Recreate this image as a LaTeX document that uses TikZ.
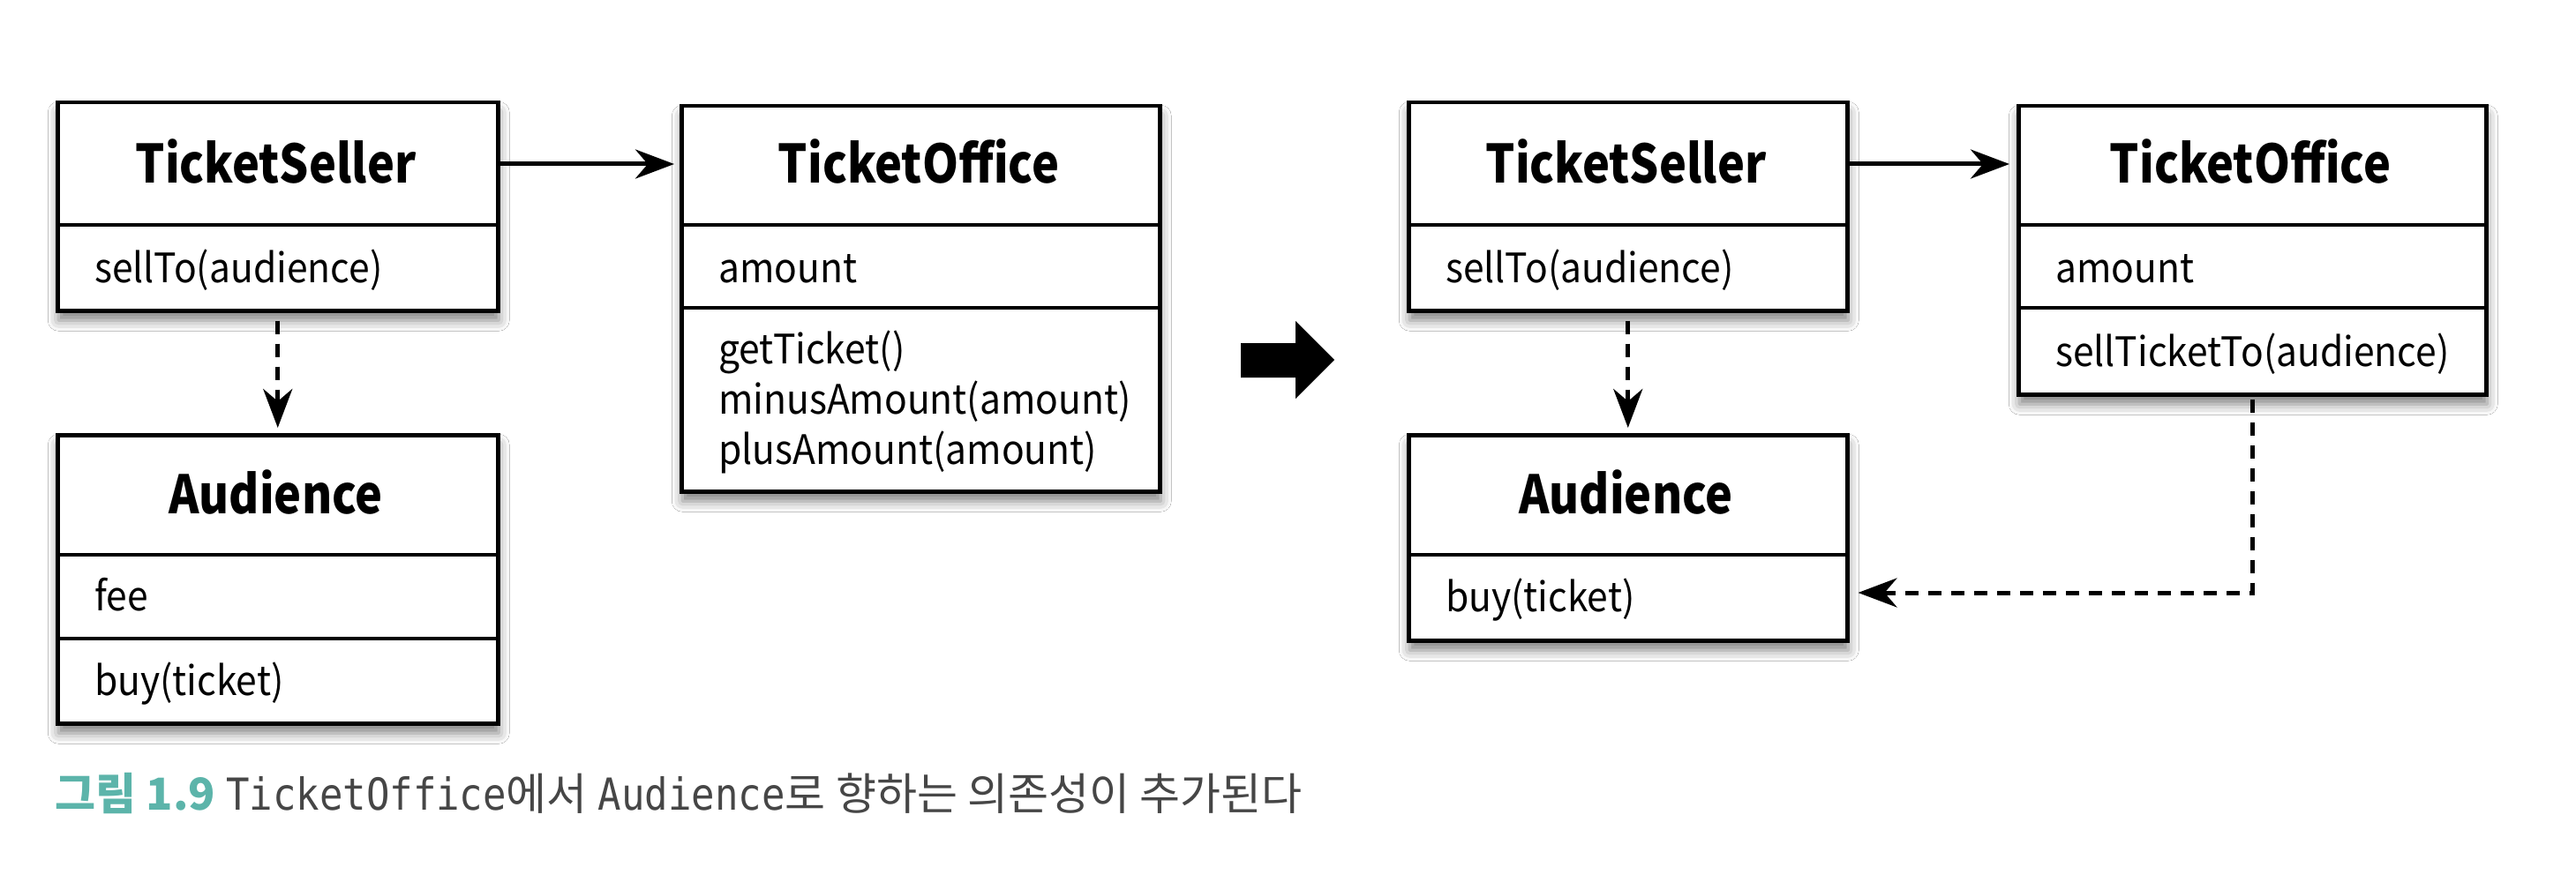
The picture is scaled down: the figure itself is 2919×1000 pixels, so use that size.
\documentclass[tikz,border=0pt]{standalone}
\usepackage{fontspec}
\setmainfont{Noto Sans CJK KR}
\newfontfamily\bodyfont[FakeStretch=0.925]{Noto Sans CJK KR}
\newfontfamily\headfont[FakeStretch=0.87]{Noto Sans CJK KR}
\newfontfamily\capmono[FakeStretch=0.88]{DejaVu Sans Mono}
\usetikzlibrary{arrows.meta,shadows.blur}
\definecolor{capteal}{RGB}{92,180,170}
\definecolor{capgray}{RGB}{70,70,70}
\tikzset{
  umlbox/.style={draw=black, line width=4.5pt, fill=white, inner sep=0pt, anchor=north west,
    blur shadow={shadow xshift=1pt, shadow yshift=-11pt, shadow blur radius=12pt, shadow opacity=50}},
  divider/.style={line width=4.5pt},
  headtxt/.style={font=\headfont\fontsize{60}{72}\selectfont\bfseries, anchor=base, inner sep=0pt},
  bodytxt/.style={font=\bodyfont\fontsize{46}{56}\selectfont, anchor=base west, inner sep=0pt},
  conn/.style={line width=5pt, -{Stealth[length=44pt,width=33pt,inset=14pt]}},
  dep/.style={conn, dash pattern=on 15pt off 11pt},
  captxt/.style={anchor=base west, inner sep=0pt, text=capgray, font=\fontsize{50}{58}\selectfont}
}
\begin{document}
\begin{tikzpicture}[x=1pt, y=-1pt]
\useasboundingbox[fill=white] (0,0) rectangle (2919,1000);

% ---------- left diagram ----------
\node[umlbox, minimum width=499pt, minimum height=236pt] (ts) at (63,114) {};
\draw[divider] (ts.west |- 0,255) -- (ts.east |- 0,255);
\node[headtxt] (tsh) at (312.5,208) {TicketSeller};
\node[bodytxt] (tsm) at (107,320) {sellTo(audience)};

\node[umlbox, minimum width=542pt, minimum height=437pt] (to) at (770,118) {};
\draw[divider] (to.west |- 0,255) -- (to.east |- 0,255);
\draw[divider] (to.west |- 0,349) -- (to.east |- 0,349);
\node[headtxt] (toh) at (1041,208) {TicketOffice};
\node[bodytxt] (toa) at (814,320) {amount};
\node[bodytxt] (tom1) at (814,412) {getTicket()};
\node[bodytxt] (tom2) at (814,469) {minusAmount(amount)};
\node[bodytxt] (tom3) at (814,526) {plusAmount(amount)};

\node[umlbox, minimum width=499pt, minimum height=327pt] (aud) at (63,491) {};
\draw[divider] (aud.west |- 0,629) -- (aud.east |- 0,629);
\draw[divider] (aud.west |- 0,724) -- (aud.east |- 0,724);
\node[headtxt] (audh) at (312.5,582) {Audience};
\node[bodytxt] (auda) at (107,692) {fee};
\node[bodytxt] (audm) at (107,788) {buy(ticket)};

\draw[conn, shorten >=6pt] (ts.east |- 0,186) -- (to.west |- 0,186);
\draw[dep] ([yshift=-9pt]ts.south) -- ([yshift=6pt]aud.north);

% ---------- big arrow ----------
\fill[black] (1406,389) -- (1468,389) -- (1468,364) -- (1512,408) -- (1468,452) -- (1468,428) -- (1406,428) -- cycle;

% ---------- right diagram ----------
\node[umlbox, minimum width=497pt, minimum height=236pt] (ts2) at (1594,114) {};
\draw[divider] (ts2.west |- 0,255) -- (ts2.east |- 0,255);
\node[headtxt] (ts2h) at (1842.5,208) {TicketSeller};
\node[bodytxt] (ts2m) at (1638,320) {sellTo(audience)};

\node[umlbox, minimum width=530pt, minimum height=327pt] (to2) at (2285,118) {};
\draw[divider] (to2.west |- 0,255) -- (to2.east |- 0,255);
\draw[divider] (to2.west |- 0,349) -- (to2.east |- 0,349);
\node[headtxt] (to2h) at (2550,208) {TicketOffice};
\node[bodytxt] (to2a) at (2329,320) {amount};
\node[bodytxt] (to2m) at (2329,415) {sellTicketTo(audience)};

\node[umlbox, minimum width=497pt, minimum height=233pt] (aud2) at (1594,491) {};
\draw[divider] (aud2.west |- 0,629) -- (aud2.east |- 0,629);
\node[headtxt] (aud2h) at (1842.5,582) {Audience};
\node[bodytxt] (aud2m) at (1638,693) {buy(ticket)};

\draw[conn, shorten >=8pt] (ts2.east |- 0,186) -- (to2.west |- 0,186);
\draw[dep] ([yshift=-9pt]ts2.south) -- ([yshift=6pt]aud2.north);
\coordinate (aud2in) at ([xshift=10pt]aud2.east |- 0,672);
\draw[dep] ([yshift=-3pt]to2.south) |- (aud2in);

% ---------- caption ----------
\node[captxt] (cap) at (62,918) {{\color{capteal}\bfseries 그림 1.9}\hspace{12pt}{\capmono TicketOffice}에서\hspace{12pt}{\capmono Audience}로 향하는 의존성이 추가된다};
\end{tikzpicture}
\end{document}
